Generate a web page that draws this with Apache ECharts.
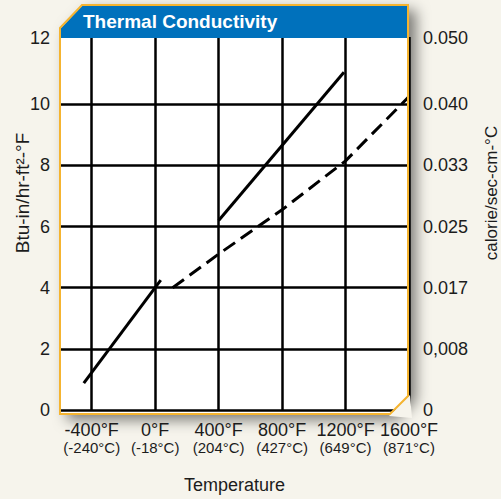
<!DOCTYPE html>
<html>
<head>
<meta charset="utf-8">
<script src="https://cdn.jsdelivr.net/npm/echarts@6/dist/echarts.min.js"></script>
<style>
  html, body { margin: 0; padding: 0; background: #f6f4ec; }
  #main { width: 501px; height: 499px; }
</style>
</head>
<body>
<div id="main"></div>
<script>
// 数据
var xTicks = [-400, 0, 400, 800, 1200, 1600];
var xLabelsF = ['-400°F', '0°F', '400°F', '800°F', '1200°F', '1600°F'];
var xLabelsC = ['(-240°C)', '(-18°C)', '(204°C)', '(427°C)', '(649°C)', '(871°C)'];
var yTicks = [0, 2, 4, 6, 8, 10, 12];
var yRightLabels = ['0', '0,008', '0.017', '0.025', '0.033', '0.040', '0.050'];
var lowSolid = [[-450, 0.88], [35, 4.25]];
var highSolid = [[400, 6.2], [1190, 11.05]];
var dashed = [[110, 4.0], [400, 5.1], [800, 6.55], [1200, 8.15], [1600, 10.25]];

var font = 'Liberation Sans, Arial, Helvetica, sans-serif';
var ink = '#1c1c1c';
var bg = '#f6f4ec';
var orange = '#f5b430';
var blue = '#0071bc';

var myChart = echarts.init(document.getElementById('main'), null, { renderer: 'svg' });

function yLeft(v) {
  var i = yTicks.indexOf(v);
  if (i < 0) return '';
  if (v === 12) return '{t|12}';
  return String(v);
}
function yRight(v) {
  var i = yTicks.indexOf(v);
  if (i < 0) return '';
  if (v === 12) return '{t|' + yRightLabels[i] + '}';
  return yRightLabels[i];
}

myChart.setOption({
  backgroundColor: bg,
  animation: false,
  title: {
    text: 'Thermal Conductivity',
    left: 83,
    top: 12,
    padding: 0,
    z: 200,
    textStyle: { color: '#fff', fontSize: 19, fontWeight: 'bold', fontFamily: font }
  },
  grid: { left: 60, right: 92, top: 37, bottom: 85 },
  xAxis: {
    type: 'value',
    min: -600,
    max: 1600,
    interval: 200,
    axisLine: { show: false },
    axisTick: { show: false },
    splitLine: {
      show: true,
      showMinLine: true,
      showMaxLine: true,
      lineStyle: { color: ['rgba(0,0,0,0)', '#000'], width: 2.5 }
    },
    axisLabel: {
      margin: 10,
      formatter: function (v) {
        var i = xTicks.indexOf(v);
        if (i < 0) return '';
        return '{f|' + xLabelsF[i] + '}\n{c|' + xLabelsC[i] + '}';
      },
      rich: {
        f: { fontSize: 18, color: ink, fontFamily: font, lineHeight: 19 },
        c: { fontSize: 15, color: ink, fontFamily: font, lineHeight: 17 }
      }
    },
    name: 'Temperature',
    nameLocation: 'middle',
    nameGap: 66,
    nameTextStyle: { fontSize: 18, color: ink, fontFamily: font }
  },
  yAxis: [
    {
      type: 'value',
      min: 0,
      max: 12.2,
      interval: 2,
      axisLine: { show: false },
      axisTick: { show: false },
      splitLine: {
        show: true,
        showMinLine: true,
        showMaxLine: true,
        lineStyle: {
          color: ['#000', '#000', '#000', '#000', '#000', '#000', 'rgba(0,0,0,0)', 'rgba(0,0,0,0)'],
          width: 2.5
        }
      },
      axisLabel: {
        margin: 10,
        fontSize: 18,
        color: ink,
        fontFamily: font,
        formatter: yLeft,
        rich: { t: { fontSize: 18, color: ink, fontFamily: font, padding: [0, 0, 11, 0] } }
      }
    },
    {
      type: 'value',
      position: 'right',
      min: 0,
      max: 12.2,
      interval: 2,
      axisLine: { show: false },
      axisTick: { show: false },
      splitLine: { show: false },
      axisLabel: {
        margin: 14,
        fontSize: 18,
        color: ink,
        fontFamily: font,
        formatter: yRight,
        rich: { t: { fontSize: 18, color: ink, fontFamily: font, padding: [0, 0, 11, 0] } }
      }
    }
  ],
  graphic: [
    {
      // 白底 + 阴影
      type: 'polygon',
      z: -10,
      shape: { points: [[60, 28], [82, 5], [409, 5], [409, 396], [390, 415], [60, 415]] },
      style: { fill: '#fff', shadowBlur: 14, shadowOffsetX: 7, shadowOffsetY: 5, shadowColor: 'rgba(0,0,0,0.5)' }
    },
    {
      // 右下角切角
      type: 'polygon',
      z: 97,
      shape: { points: [[389, 416], [410, 395], [412, 418]] },
      style: { fill: bg }
    },
    {
      // 标题栏
      type: 'polygon',
      z: 98,
      shape: { points: [[61, 28], [82, 6], [408, 6], [408, 38], [61, 38]] },
      style: { fill: blue }
    },
    {
      // 橙色边框
      type: 'polygon',
      z: 99,
      shape: { points: [[60, 28], [82, 5], [408, 5], [408, 396], [390, 414], [60, 414]] },
      style: { fill: 'none', stroke: orange, lineWidth: 2 }
    },
    {
      type: 'text',
      z: 100,
      x: 22,
      y: 193,
      rotation: Math.PI / 2,
      style: { text: 'Btu-in/hr-ft²-°F', fontSize: 19, fontFamily: font, fill: ink, align: 'center', verticalAlign: 'middle' }
    },
    {
      type: 'text',
      z: 100,
      x: 491,
      y: 193,
      rotation: Math.PI / 2,
      style: { text: 'calorie/sec-cm-°C', fontSize: 17, fontFamily: font, fill: ink, align: 'center', verticalAlign: 'middle' }
    }
  ],
  series: [
    {
      name: 'low',
      type: 'line',
      data: lowSolid,
      symbol: 'none',
      z: 10,
      lineStyle: { color: '#000', width: 3, cap: 'butt' }
    },
    {
      name: 'high',
      type: 'line',
      data: highSolid,
      symbol: 'none',
      z: 10,
      lineStyle: { color: '#000', width: 3, cap: 'butt' }
    },
    {
      name: 'dashed',
      type: 'line',
      data: dashed,
      symbol: 'none',
      z: 10,
      lineStyle: { color: '#000', width: 3, type: [14, 7], cap: 'butt' }
    }
  ]
});
</script>
</body>
</html>
